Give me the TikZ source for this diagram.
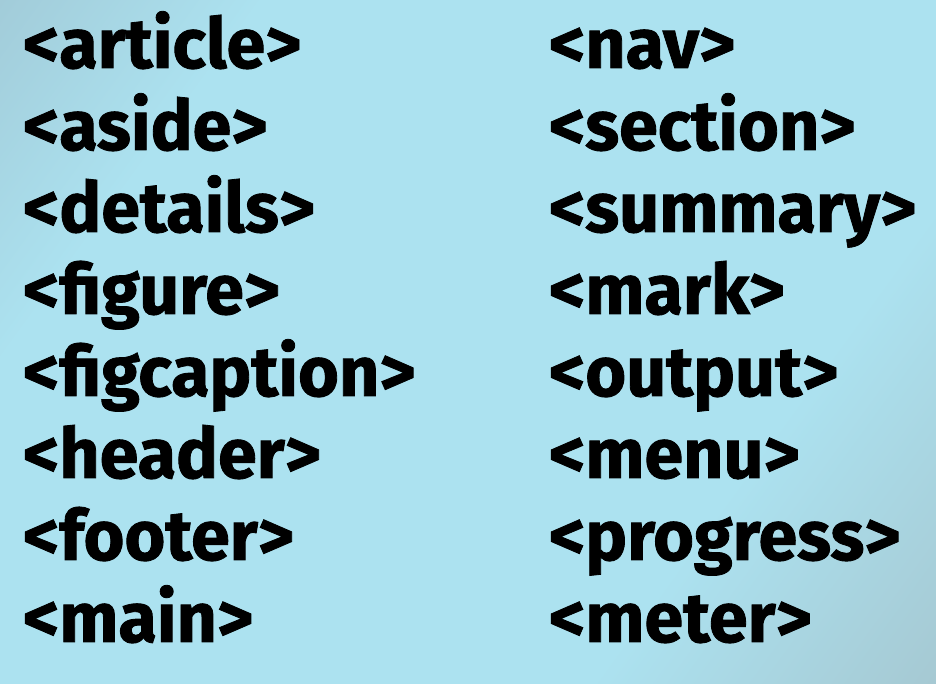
\documentclass[tikz,border=0pt]{standalone}
\usepackage{fontspec}
\setmainfont{Fira Sans}[BoldFeatures={FakeBold=1.2}]
\usetikzlibrary{positioning}

\definecolor{cornerTL}{RGB}{150,178,190}
\definecolor{skyBlue}{RGB}{172,226,240}
\definecolor{cornerBR}{RGB}{160,178,184}
\pgfdeclarehorizontalshading{bgShade}{100bp}{color(0bp)=(cornerTL); color(28bp)=(skyBlue); color(68bp)=(skyBlue); color(100bp)=(cornerBR)}

\begin{document}
\begin{tikzpicture}[x=1pt,y=1pt,
  tag/.style={text=black, anchor=base west, inner sep=0pt, outer sep=0pt,
    font=\fontsize{70}{70}\selectfont\bfseries}]
\useasboundingbox (0,0) rectangle (936,684);
\shade[shading=bgShade, shading angle=-36] (0,0) rectangle (936,684);

% left column
\node[tag] (article) at (23,616) {<article>};
\node[tag] (aside) at (23,534) {<aside>};
\node[tag] (details) at (23,452) {<details>};
\node[tag] (figure) at (23,370) {<figure>};
\node[tag] (figcaption) at (23,288) {<figcaption>};
\node[tag] (header) at (23,206) {<header>};
\node[tag] (footer) at (23,124) {<footer>};
\node[tag] (main) at (23,42) {<main>};

% right column
\node[tag] (nav) at (549,616) {<nav>};
\node[tag] (section) at (549,534) {<section>};
\node[tag] (summary) at (549,452) {<summary>};
\node[tag] (mark) at (549,370) {<mark>};
\node[tag] (output) at (549,288) {<output>};
\node[tag] (menu) at (549,206) {<menu>};
\node[tag] (progress) at (549,124) {<progress>};
\node[tag] (meter) at (549,42) {<meter>};
\end{tikzpicture}
\end{document}
